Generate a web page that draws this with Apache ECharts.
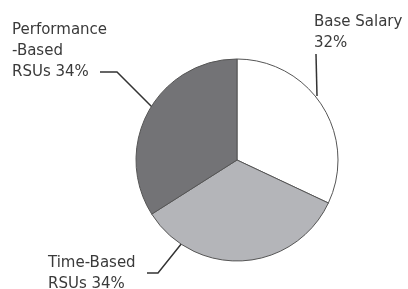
<!DOCTYPE html>
<html>
<head>
<meta charset="utf-8">
<script src="https://cdn.jsdelivr.net/npm/echarts@6/dist/echarts.min.js"></script>
<style>
  html, body { margin: 0; padding: 0; background: #fff; }
  #chart { width: 408px; height: 289px; }
</style>
</head>
<body>
<div id="chart"></div>
<script>
const categories = ['Base Salary', 'Time-Based\nRSUs', 'Performance\n-Based\nRSUs']
const shares = [32, 34, 34]
const sliceColors = ['#ffffff', '#b4b5b9', '#737376']

// label placement (top-left of the text block) and leader line bends
const labelSpots = [
  { x: 314, y: 12, line: [[317, 96], [316, 54]] },
  { x: 48, y: 253, line: [[182, 243], [158, 273], [147, 273]] },
  { x: 12, y: 20, line: [[152, 107], [117, 72], [100, 72]] }
]

const chart = echarts.init(document.getElementById('chart'))

chart.setOption({
  animation: false,
  series: [{
    type: 'pie',
    center: [237, 160],
    radius: 101,
    startAngle: 90,
    clockwise: true,
    emphasis: { disabled: true },
    itemStyle: {
      borderColor: '#555',
      borderWidth: 1
    },
    label: {
      show: true,
      position: 'outside',
      overflow: 'none',
      formatter: function (p) {
        // short names put the percent on its own line
        return p.name + (p.name.indexOf('\n') < 0 ? '\n' : ' ') + p.value + '%'
      },
      fontFamily: 'DejaVu Sans',
      fontSize: 15,
      lineHeight: 21,
      color: '#3a3a3a'
    },
    labelLine: {
      show: true,
      lineStyle: { color: '#333', width: 1.5 }
    },
    labelLayout: function (params) {
      const spot = labelSpots[params.dataIndex]
      return {
        x: spot.x,
        y: spot.y,
        align: 'left',
        verticalAlign: 'top',
        labelLinePoints: spot.line
      }
    },
    data: categories.map(function (name, i) {
      return {
        name: name,
        value: shares[i],
        itemStyle: { color: sliceColors[i] }
      }
    })
  }]
})
</script>
</body>
</html>
